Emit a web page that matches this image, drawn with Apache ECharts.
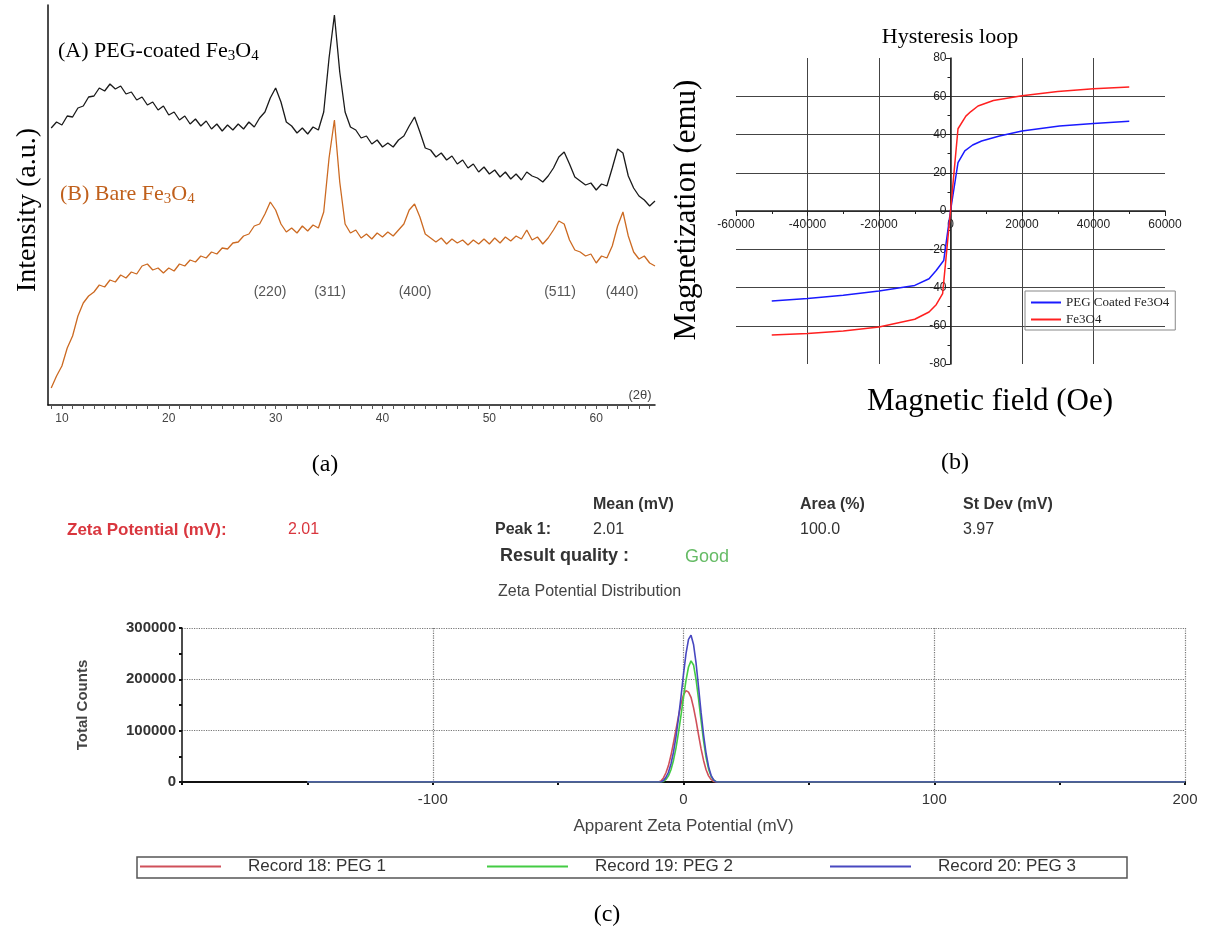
<!DOCTYPE html>
<html>
<head>
<meta charset="utf-8">
<title>Fe3O4 nanoparticles: XRD, hysteresis, zeta potential</title>
<script src="https://cdn.jsdelivr.net/npm/echarts@6.0.0/dist/echarts.min.js"></script>
<style>
  html, body { margin: 0; padding: 0; background: #fff; }
  #page { position: relative; width: 1215px; height: 938px; }
  .panel { position: absolute; }
</style>
</head>
<body>
<div id="page">
  <div id="chartA" class="panel" style="left:0;top:0;width:665px;height:480px"></div>
  <div id="chartB" class="panel" style="left:665px;top:0;width:550px;height:480px"></div>
  <div id="chartC" class="panel" style="left:0;top:480px;width:1215px;height:458px"></div>
</div>
<script>
// ---- (a) XRD patterns, one reading every 0.5 deg from 9 deg ----
let xrdPeg = [
  277, 283, 280, 289, 288, 297, 299, 308, 309, 317,
  314, 321, 316, 319, 311, 313, 305, 308, 300, 303,
  295, 299, 290, 293, 285, 289, 281, 286, 279, 284,
  276, 281, 274, 280, 275, 281, 276, 283, 278, 287,
  293, 307, 317, 303, 283, 279, 272, 277, 271, 278,
  275, 293, 347, 390, 333, 293, 278, 275, 267, 269,
  261, 265, 258, 262, 258, 265, 269, 279, 288, 273,
  257, 255, 248, 252, 245, 249, 241, 245, 237, 241,
  233, 238, 231, 235, 228, 233, 226, 231, 225, 233,
  229, 227, 223, 229, 237, 248, 253, 241, 228, 224,
  220, 222, 215, 221, 219, 237, 256, 252, 229, 217,
  209, 205, 199, 204
];
let xrdBare = [
  17, 29, 39, 57, 69, 89, 102, 109, 113, 120,
  118, 125, 123, 130, 127, 133, 131, 139, 141, 135,
  137, 132, 137, 134, 141, 139, 145, 143, 149, 147,
  153, 151, 157, 156, 162, 163, 169, 171, 179, 181,
  191, 203, 195, 181, 173, 177, 172, 179, 174, 180,
  177, 193, 247, 285, 223, 181, 172, 175, 167, 171,
  166, 172, 168, 173, 169, 175, 181, 195, 201, 188,
  171, 167, 163, 167, 161, 166, 162, 165, 160, 165,
  161, 166, 161, 167, 162, 168, 164, 169, 166, 175,
  165, 168, 161, 167, 175, 184, 181, 165, 155, 153,
  149, 151, 142, 149, 147, 159, 179, 193, 169, 153,
  146, 149, 142, 139
];
let xrdAngle = xrdPeg.map(function (v, i) { return 9 + i * 0.5; });
let xrdTickLabels = [10, 20, 30, 40, 50, 60];
let peakLabels = ['(220)', '(311)', '(400)', '(511)', '(440)'];

// ---- (b) hysteresis ----
let fieldBare = [-50000, -40000, -30000, -20000, -10000, -6000, -4000, -2200, 0, 2100, 4300, 5700, 7700, 12000, 20000, 30000, 40000, 50000];
let magBare = [-64.9, -64, -62.8, -60.6, -56.6, -52.8, -49, -43.2, 0, 43, 49.6, 52, 54.9, 57.8, 60.3, 62.5, 63.9, 64.8];
let fieldPeg = [-50000, -40000, -30000, -20000, -10000, -6000, -4000, -1900, 0, 2100, 4000, 6200, 8700, 13700, 20000, 30500, 40000, 50000];
let magPeg = [-47, -45.8, -44.1, -41.8, -38.9, -35.4, -31.1, -25.9, 0, 25.3, 31.4, 34.5, 36.6, 39.2, 41.8, 44.4, 45.8, 46.9];

// ---- (c) zeta potential distribution ----
let zetaMv = [-150, -10, -9, -8, -7, -6, -5, -4, -3, -2, -1, 0, 1, 2, 3, 4, 5, 6, 7, 8, 9, 10, 11, 12, 13, 14, 200];
let countsPeg1 = [0, 0, 2000, 8000, 18000, 32000, 52000, 76000, 102000, 128000, 152000, 170000, 178000, 175000, 165000, 145000, 120000, 92000, 65000, 42000, 24000, 12000, 5000, 1000, 0, 0, 0];
let countsPeg2 = [0, 0, 0, 1000, 5000, 12000, 24000, 42000, 66000, 96000, 130000, 165000, 198000, 224000, 236000, 228000, 200000, 162000, 120000, 80000, 48000, 25000, 11000, 4000, 1000, 0, 0];
let countsPeg3 = [0, 0, 0, 3000, 9000, 19000, 35000, 58000, 88000, 125000, 166000, 210000, 250000, 278000, 286000, 268000, 232000, 185000, 136000, 92000, 56000, 30000, 13000, 4000, 0, 0, 0];
let recordNames = ['Record 18: PEG 1', 'Record 19: PEG 2', 'Record 20: PEG 3'];
let recordColors = ['#d0505a', '#44cc44', '#4848c0'];

let SERIF = '"Liberation Serif", "Times New Roman", serif';
let SANS = '"Liberation Sans", Arial, sans-serif';
let NARROW = '"Liberation Sans Narrow", "Liberation Sans", Arial, sans-serif';

function pairs(xs, ys) {
  return xs.map(function (x, i) { return [x, ys[i]]; });
}

// plain numbers, no thousands separator
function plain(v) { return String(v); }

function txt(text, x, y, font, fill, align, extra) {
  let el = {
    type: 'text',
    x: x,
    y: y,
    style: {
      text: text,
      font: font,
      fill: fill || '#000',
      textAlign: align || 'left',
      textVerticalAlign: 'middle'
    }
  };
  if (extra) Object.assign(el, extra);
  return el;
}

// ================= (a) =================
let chartA = echarts.init(document.getElementById('chartA'));
let xrdTicks = [];
for (let t = 9; t <= 65; t++) xrdTicks.push(t);
let peakX = [270, 330, 415, 560, 622];

chartA.setOption({
  animation: false,
  grid: { left: 48, top: 5, width: 607, height: 400 },
  xAxis: {
    type: 'value',
    min: 8.7,
    max: 65.5,
    axisLine: { show: true, lineStyle: { color: '#111', width: 1.5 } },
    axisTick: { show: true, customValues: xrdTicks, length: 4, lineStyle: { color: '#555' } },
    axisLabel: { customValues: xrdTickLabels, color: '#444', fontSize: 12, fontFamily: SANS, margin: 8 },
    splitLine: { show: false }
  },
  yAxis: {
    type: 'value',
    min: 0,
    max: 400,
    axisLine: { show: true, lineStyle: { color: '#111', width: 1.5 } },
    axisTick: { show: false },
    axisLabel: { show: false },
    splitLine: { show: false }
  },
  series: [
    {
      name: 'PEG-coated', type: 'line', data: pairs(xrdAngle, xrdPeg),
      showSymbol: false, lineStyle: { color: '#1a1a1a', width: 1.3 }
    },
    {
      name: 'Bare', type: 'line', data: pairs(xrdAngle, xrdBare),
      showSymbol: false, lineStyle: { color: '#cc6a22', width: 1.3 }
    }
  ],
  graphic: [
    {
      type: 'text', x: 58, y: 38,
      style: {
        text: '{m|(A) PEG-coated Fe}{s|3}{m|O}{s|4}',
        fill: '#000',
        rich: {
          m: { font: '22px ' + SERIF, lineHeight: 26, fill: '#000' },
          s: { font: '15px ' + SERIF, lineHeight: 12, verticalAlign: 'bottom', fill: '#000' }
        }
      }
    },
    {
      type: 'text', x: 60, y: 181,
      style: {
        text: '{m|(B) Bare Fe}{s|3}{m|O}{s|4}',
        fill: '#c0601c',
        rich: {
          m: { font: '22px ' + SERIF, lineHeight: 26, fill: '#c0601c' },
          s: { font: '15px ' + SERIF, lineHeight: 12, verticalAlign: 'bottom', fill: '#c0601c' }
        }
      }
    },
    txt('Intensity (a.u.)', 28, 210, '28px ' + SERIF, '#000', 'center', { rotation: Math.PI / 2 }),
    txt('(2θ)', 640, 395, '13px ' + NARROW, '#444', 'center'),
    txt('(a)', 325, 465, '24px ' + SERIF, '#000', 'center')
  ].concat(peakLabels.map(function (p, i) {
    return txt(p, peakX[i], 292, '14px ' + NARROW, '#555', 'center');
  }))
});

// ================= (b) =================
let chartB = echarts.init(document.getElementById('chartB'));
chartB.setOption({
  animation: false,
  grid: { left: 71, top: 58, width: 429, height: 306 },
  legend: {
    orient: 'vertical',
    left: 360,
    top: 291,
    padding: [5, 6, 4, 6],
    itemGap: 4,
    itemWidth: 30,
    itemHeight: 2,
    icon: 'rect',
    borderColor: '#888',
    borderWidth: 1,
    textStyle: { fontFamily: SERIF, fontSize: 13, color: '#222' },
    data: ['PEG Coated Fe3O4', 'Fe3O4']
  },
  xAxis: {
    type: 'value',
    min: -60000,
    max: 60000,
    interval: 20000,
    position: 'bottom',
    offset: -153,
    axisLine: { show: true, onZero: false, lineStyle: { color: '#222', width: 1.5 } },
    axisTick: { show: true, length: 5, lineStyle: { color: '#222' } },
    minorTick: { show: true, splitNumber: 2, length: 3, lineStyle: { color: '#222' } },
    axisLabel: { color: '#222', fontSize: 12, fontFamily: SANS, margin: 8, formatter: plain },
    splitLine: { show: true, showMinLine: false, showMaxLine: false, lineStyle: { color: '#444', width: 1 } }
  },
  yAxis: {
    type: 'value',
    min: -80,
    max: 80,
    interval: 20,
    position: 'left',
    offset: -214.5,
    axisLine: { show: true, onZero: false, lineStyle: { color: '#222', width: 1.5 } },
    axisTick: { show: true, length: 5, lineStyle: { color: '#222' } },
    minorTick: { show: true, splitNumber: 2, length: 3, lineStyle: { color: '#222' } },
    axisLabel: { color: '#222', fontSize: 12, fontFamily: SANS, margin: 4, formatter: plain },
    splitLine: { show: true, showMinLine: false, showMaxLine: false, lineStyle: { color: '#444', width: 1 } }
  },
  series: [
    {
      name: 'PEG Coated Fe3O4', type: 'line', data: pairs(fieldPeg, magPeg),
      showSymbol: false, color: '#1a1aff', lineStyle: { color: '#1a1aff', width: 1.5 }
    },
    {
      name: 'Fe3O4', type: 'line', data: pairs(fieldBare, magBare),
      showSymbol: false, color: '#ff2020', lineStyle: { color: '#ff2020', width: 1.5 }
    }
  ],
  graphic: [
    txt('Hysteresis loop', 285, 37, '22px ' + SERIF, '#000', 'center'),
    txt('Magnetization (emu)', 22, 210, '31px ' + SERIF, '#000', 'center', { rotation: Math.PI / 2 }),
    txt('Magnetic field (Oe)', 325, 402, '31px ' + SERIF, '#000', 'center'),
    txt('(b)', 290, 463, '24px ' + SERIF, '#000', 'center')
  ]
});

// ================= (c) =================
let chartC = echarts.init(document.getElementById('chartC'));
let legendLeft = [140, 487, 830];
let zetaCounts = [countsPeg1, countsPeg2, countsPeg3];

chartC.setOption({
  animation: false,
  grid: { left: 182, top: 148, width: 1003, height: 154 },
  legend: recordNames.map(function (name, i) {
    return {
      left: legendLeft[i],
      top: 378,
      padding: 0,
      icon: 'rect',
      itemWidth: 81,
      itemHeight: 2,
      textStyle: { fontFamily: SANS, fontSize: 17, color: '#333', padding: [0, 0, 0, 22] },
      data: [name]
    };
  }),
  xAxis: {
    type: 'value',
    min: -200,
    max: 200,
    interval: 100,
    name: 'Apparent Zeta Potential (mV)',
    nameLocation: 'middle',
    nameGap: 36,
    nameTextStyle: { fontFamily: SANS, fontSize: 17, color: '#444' },
    axisLine: { show: true, onZero: false, lineStyle: { color: '#111', width: 2 } },
    axisTick: { show: true, length: 3, lineStyle: { color: '#111', width: 2 } },
    minorTick: { show: true, splitNumber: 2, length: 3, lineStyle: { color: '#111', width: 2 } },
    axisLabel: {
      fontFamily: SANS, fontSize: 15, color: '#333', margin: 10,
      formatter: function (v) { return v === -200 ? '' : String(v); }
    },
    splitLine: { show: true, showMinLine: false, lineStyle: { type: 'dotted', color: '#777', width: 1.2 } }
  },
  yAxis: {
    type: 'value',
    min: 0,
    max: 300000,
    interval: 100000,
    name: 'Total Counts',
    nameLocation: 'middle',
    nameGap: 92,
    nameTextStyle: { fontFamily: SANS, fontSize: 15, fontWeight: 'bold', color: '#444' },
    axisLine: { show: true, onZero: false, lineStyle: { color: '#111', width: 1.5 } },
    axisTick: { show: true, length: 3, lineStyle: { color: '#111', width: 2 } },
    minorTick: { show: true, splitNumber: 2, length: 3, lineStyle: { color: '#111', width: 2 } },
    axisLabel: { fontFamily: SANS, fontSize: 15, fontWeight: 'bold', color: '#333', margin: 6, formatter: plain },
    splitLine: { show: true, showMinLine: false, lineStyle: { type: 'dotted', color: '#777', width: 1.2 } }
  },
  series: recordNames.map(function (name, i) {
    return {
      name: name, type: 'line', data: pairs(zetaMv, zetaCounts[i]),
      showSymbol: false, color: recordColors[i],
      lineStyle: { color: recordColors[i], width: 1.6 }
    };
  }),
  graphic: [
    txt('Zeta Potential (mV):', 67, 50, 'bold 17px ' + SANS, '#d9363e'),
    txt('2.01', 288, 50, '16px ' + SANS, '#d9363e'),
    txt('Mean (mV)', 593, 25, 'bold 16px ' + SANS, '#333'),
    txt('Area (%)', 800, 25, 'bold 16px ' + SANS, '#333'),
    txt('St Dev (mV)', 963, 25, 'bold 16px ' + SANS, '#333'),
    txt('Peak 1:', 495, 50, 'bold 16px ' + SANS, '#333'),
    txt('2.01', 593, 50, '16px ' + SANS, '#333'),
    txt('100.0', 800, 50, '16px ' + SANS, '#333'),
    txt('3.97', 963, 50, '16px ' + SANS, '#333'),
    txt('Result quality :', 500, 76, 'bold 18px ' + SANS, '#333'),
    txt('Good', 685, 77, '18px ' + SANS, '#66bb66'),
    txt('Zeta Potential Distribution', 498, 112, '16px ' + SANS, '#444'),
    {
      type: 'rect',
      shape: { x: 137, y: 377, width: 990, height: 21 },
      style: { fill: 'none', stroke: '#555', lineWidth: 1.5 }
    },
    txt('(c)', 607, 435, '24px ' + SERIF, '#000', 'center')
  ]
});
</script>
</body>
</html>
